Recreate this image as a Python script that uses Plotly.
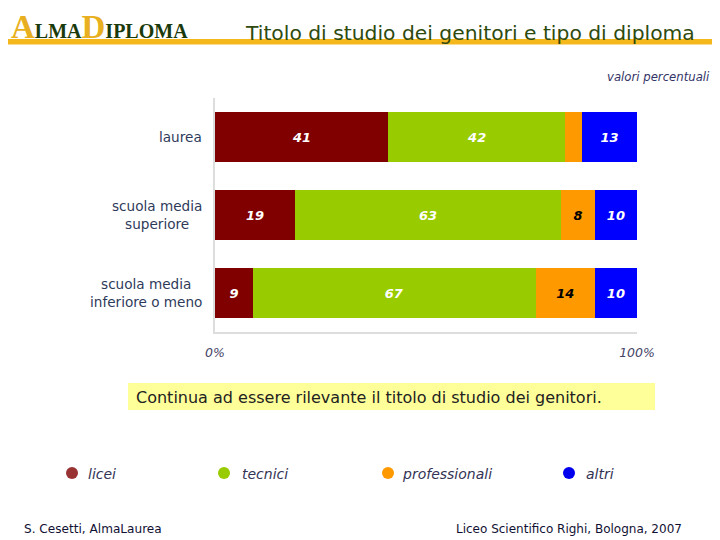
import plotly.graph_objects as go

categories = ["laurea", "scuola media<br>superiore", "scuola media<br>inferiore o meno"]
series_names = ["licei", "tecnici", "professionali", "altri"]
licei = [41, 19, 9]
tecnici = [42, 63, 67]
professionali = [4, 8, 14]
altri = [13, 10, 10]
values = [licei, tecnici, professionali, altri]
bar_colors = ["#800000", "#99CC00", "#FF9900", "#0000FF"]
label_colors = ["white", "white", "black", "white"]
legend_colors = ["#993333", "#99CC00", "#FF9900", "#0000EE"]
tick_vals = [0, 100]
tick_text = ["0%", "100%"]

# the page body has an 8px margin; figure sized to fit the window
OFF = 8
W, H = 720 - OFF, 540 - OFF
def px(x):
    return (x - OFF) / W
def py(y):
    return 1 - (y - OFF) / H

fig = go.Figure()
for name, vals, col, lc in zip(series_names, values, bar_colors, label_colors):
    fig.add_trace(go.Bar(
        y=categories, x=vals, orientation="h", name=name,
        marker=dict(color=col, line=dict(width=0)),
        text=[str(v) if v >= 5 else "" for v in vals],
        textposition="inside", insidetextanchor="middle",
        textfont=dict(family="DejaVu Sans", size=13, color=lc, weight="bold", style="italic"),
        showlegend=False, hoverinfo="skip",
    ))

fig.update_layout(
    width=W, height=H, barmode="stack", bargap=0.37,
    margin=dict(l=0, r=0, t=0, b=0, autoexpand=False),
    paper_bgcolor="white", plot_bgcolor="white",
    font=dict(family="DejaVu Sans", color="#333355"),
    xaxis=dict(domain=[px(215), px(637)], range=[0, 100], tickvals=tick_vals, ticktext=tick_text,
               showgrid=False, zeroline=False, showline=True, linecolor="#DDDDDD", linewidth=2,
               tickfont=dict(size=12.5, style="italic", color="#444466"), ticks="",
               ticklabelstandoff=8, automargin=False),
    yaxis=dict(domain=[py(332), py(98)], autorange="reversed", showgrid=False, zeroline=False,
               showline=True, linecolor="#DDDDDD", linewidth=2, ticks="", showticklabels=False,
               automargin=False),
)

shapes = []
annotations = []
# category labels (centered multi-line, right edge near the axis)
for c in categories:
    annotations.append(dict(text=c, x=px(204), y=c, xref="paper", yref="y", xanchor="right",
                            yanchor="middle", align="center", showarrow=False,
                            font=dict(family="DejaVu Sans", size=13.6, color="#2E3A5A")))
# header line
shapes.append(dict(type="rect", xref="paper", yref="paper", x0=px(0), x1=px(720), y0=py(44.5), y1=py(39),
                   fillcolor="#F5B81C", line=dict(width=0), layer="below"))
# logo
logo = ("<span style='font-size:33px;color:#E8B020'>A</span>"
        "<span style='font-size:20px;color:#1B3A0C'>LMA</span>"
        "<span style='font-size:33px;color:#E8B020'>D</span>"
        "<span style='font-size:20px;color:#1B3A0C'>IPLOMA</span>")
annotations.append(dict(text=logo, x=px(9), y=py(47), xref="paper", yref="paper", xanchor="left",
                        yanchor="bottom", showarrow=False, font=dict(family="Liberation Serif", weight="bold")))
annotations.append(dict(text="Titolo di studio dei genitori e tipo di diploma", x=px(697), y=py(33),
                        xref="paper", yref="paper", xanchor="right", yanchor="middle", showarrow=False,
                        font=dict(family="DejaVu Sans", size=20.3, color="#2E4A0E")))
annotations.append(dict(text="valori percentuali", x=px(712), y=py(77), xref="paper", yref="paper",
                        xanchor="right", yanchor="middle", showarrow=False,
                        font=dict(family="DejaVu Sans", size=11.7, color="#333366", style="italic")))
# yellow box
shapes.append(dict(type="rect", xref="paper", yref="paper", x0=px(128), x1=px(655), y0=py(410), y1=py(383),
                   fillcolor="#FFFF99", line=dict(width=0), layer="below"))
annotations.append(dict(text="Continua ad essere rilevante il titolo di studio dei genitori.", x=px(134),
                        y=py(397), xref="paper", yref="paper", xanchor="left", yanchor="middle",
                        showarrow=False, font=dict(family="DejaVu Sans", size=16, color="#222222")))
# legend
leg_x = [72, 224, 388, 569]
leg_text_x = [86, 240, 400, 584]
for name, col, lx, tx in zip(series_names, legend_colors, leg_x, leg_text_x):
    shapes.append(dict(type="circle", xref="paper", yref="paper", x0=px(lx - 6), x1=px(lx + 6),
                       y0=py(479), y1=py(467), fillcolor=col, line=dict(width=0)))
    annotations.append(dict(text=name, x=px(tx), y=py(474), xref="paper", yref="paper",
                            xanchor="left", yanchor="middle", showarrow=False,
                            font=dict(family="DejaVu Sans", size=14, color="#333355", style="italic")))
# footer
annotations.append(dict(text="S. Cesetti, AlmaLaurea", x=px(22), y=py(529), xref="paper", yref="paper",
                        xanchor="left", yanchor="middle", showarrow=False,
                        font=dict(family="DejaVu Sans", size=12.1, color="#111133")))
annotations.append(dict(text="Liceo Scientifico Righi, Bologna, 2007", x=px(684), y=py(529), xref="paper",
                        yref="paper", xanchor="right", yanchor="middle", showarrow=False,
                        font=dict(family="DejaVu Sans", size=12, color="#111133")))

fig.update_layout(shapes=shapes, annotations=annotations)
fig.write_html("out.html")
